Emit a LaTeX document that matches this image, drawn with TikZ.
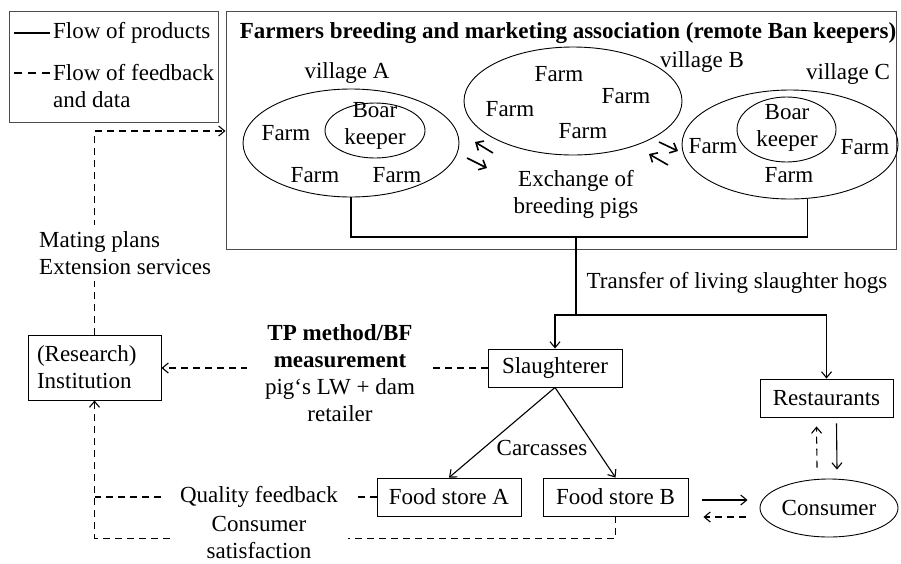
\documentclass[tikz,border=0pt]{standalone}
\usepackage{fontspec}
\setmainfont{Liberation Serif}
\usetikzlibrary{shapes.geometric,arrows.meta,calc}
\begin{document}
\begin{tikzpicture}[x=1pt,y=-1pt,
  every node/.style={font=\fontsize{23}{27}\selectfont, inner sep=0pt},
  box/.style={draw, line width=0.9pt, minimum height=38pt},
  ell/.style={draw, ellipse, line width=0.9pt, inner sep=0pt},
  frame/.style={draw=black!70, line width=1pt, inner sep=0pt},
  tip/.style={-{Straight Barb[length=6pt,width=10pt]}},
  bigtip/.style={line width=1.6pt, -{Straight Barb[length=6pt,width=11pt]}},
  prodline/.style={line width=1.1pt},
  fbline/.style={line width=1.1pt, dash pattern=on 7pt off 5pt},
  lbl/.style={fill=white, align=center}
]
\useasboundingbox (0,0) rectangle (901,563);
\fill[white] (0,0) rectangle (901,563);

% legend
\node[frame, minimum width=209pt, minimum height=111pt] (legend) at (113.5,66.5) {};
\draw[prodline] (14,33) -- (50,33);
\draw[fbline, dash pattern=on 8pt off 6pt] (14,73) -- (50,73);
\node[anchor=west] (lp) at (53,33) {Flow of products};
\node[anchor=west, align=left] (lf) at (53,86.5) {Flow of feedback\\and data};

% association frame
\node[frame, minimum width=670pt, minimum height=238pt] (assoc) at (561,130) {};
\node[font=\fontsize{23}{27}\selectfont\bfseries] (title) at (568,33) {Farmers breeding and marketing association (remote Ban keepers)};

% village A
\node (vA) at (347,73) {village A};
\node[ell, minimum width=216pt, minimum height=108pt] (eA) at (351,143) {};
\node[ell, minimum width=100pt, minimum height=55pt] (bA) at (375,130.5) {};
\node[align=center] (tA) at (375,126) {Boar\\keeper};
\node (fA1) at (286,133) {Farm};
\node (fA2) at (315,175) {Farm};
\node (fA3) at (397,175) {Farm};

% village B
\node (vB) at (702,62) {village B};
\node[ell, minimum width=218pt, minimum height=108pt] (eB) at (573,101) {};
\node (fB1) at (559,74) {Farm};
\node (fB2) at (626,96) {Farm};
\node (fB3) at (510,109) {Farm};
\node (fB4) at (583,131) {Farm};

% village C
\node (vC) at (848,74) {village C};
\node[ell, minimum width=216pt, minimum height=109pt] (eC) at (790,144.5) {};
\node[ell, minimum width=99pt, minimum height=65pt] (bC) at (786.5,129.5) {};
\node[align=center] (tC) at (787,128) {Boar\\keeper};
\node (fC1) at (713,146) {Farm};
\node (fC2) at (865,147) {Farm};
\node (fC3) at (789,175) {Farm};

% exchange arrows
\draw[bigtip] ($(eB)+(-80,52)$) -- ($(eB)+(-98,41)$);
\draw[bigtip] ($(eB)+(-106,57)$) -- ($(eB)+(-86,67)$);
\draw[bigtip] ($(eB)+(86,41)$) -- ($(eB)+(105,50)$);
\draw[bigtip] ($(eB)+(95,64)$) -- ($(eB)+(76,53)$);
\node[align=center] (ex) at (576,194.5) {Exchange of\\breeding pigs};

% product flow
\coordinate (hub) at (576,237);
\coordinate (split) at (576,315);
\draw[prodline] (eA.south) |- (hub) -| (eC.-72);
\draw[prodline] (hub) -- (split);
\node (tr) at (737,283) {Transfer of living slaughter hogs};

\node[box, minimum width=134pt] (sl) at (555,368) {Slaughterer};
\node[box, minimum width=133pt] (re) at (826.5,398) {Restaurants};
\node[box, minimum width=144pt] (fsA) at (449,497) {Food store A};
\node[box, minimum width=145pt] (fsB) at (615.5,497) {Food store B};
\node[ell, minimum width=138pt, minimum height=58pt] (co) at (829,508) {Consumer};
\node[draw, line width=0.9pt, text width=115pt, align=left, inner xsep=9pt, inner ysep=5pt, minimum height=65pt] (in) at (94.5,367.5) {(Research)\\Institution};

\draw[prodline, tip] (split) -| (sl.north);
\draw[prodline, tip] (split) -| (re.north);
\draw[prodline, tip] (sl.south) -- (fsA.north);
\draw[prodline, tip] (sl.south) -- (fsB.north);
\node (ca) at (542,448) {Carcasses};

\draw[prodline, tip] ($(fsB.east)+(14,3)$) -- ($(co.west)+(-12,-8)$);
\draw[fbline, tip] ($(co.west)+(-14,9)$) -- ($(fsB.east)+(15,20)$);
\draw[fbline, tip] ($(co.north)+(-12,-11)$) -- ($(re.south)+(-10,9)$);
\draw[prodline, tip] ($(re.south)+(10,6)$) -- ($(co.north)+(8,-9)$);

% feedback flows
\coordinate (turn) at (94.5,131);
\draw[fbline, tip] (in.north) -- (turn) -- (turn -| assoc.west);
\node[anchor=west, align=left, fill=white, inner ysep=6pt] (mp) at (39,253) {Mating plans\\Extension services};

\draw[fbline, tip] (sl.west) -- (sl.west -| in.east);
\node[lbl, inner xsep=18pt, inner ysep=2pt] (tp) at (340,373.5) {\textbf{TP method/BF}\\\textbf{measurement}\\pig‘s LW + dam\\retailer};

\draw[fbline] (fsA.west) -- (fsA.west -| in.south);
\draw[fbline, tip] (fsB.south) -- ++(0,22) -| (in.south);
\node[lbl, inner xsep=15pt, inner ysep=2pt] (qf) at (259,497) {Quality feedback};
\node[lbl, inner xsep=37pt, inner ysep=0pt] (cs) at (259,537.5) {Consumer\\satisfaction};
\end{tikzpicture}
\end{document}
